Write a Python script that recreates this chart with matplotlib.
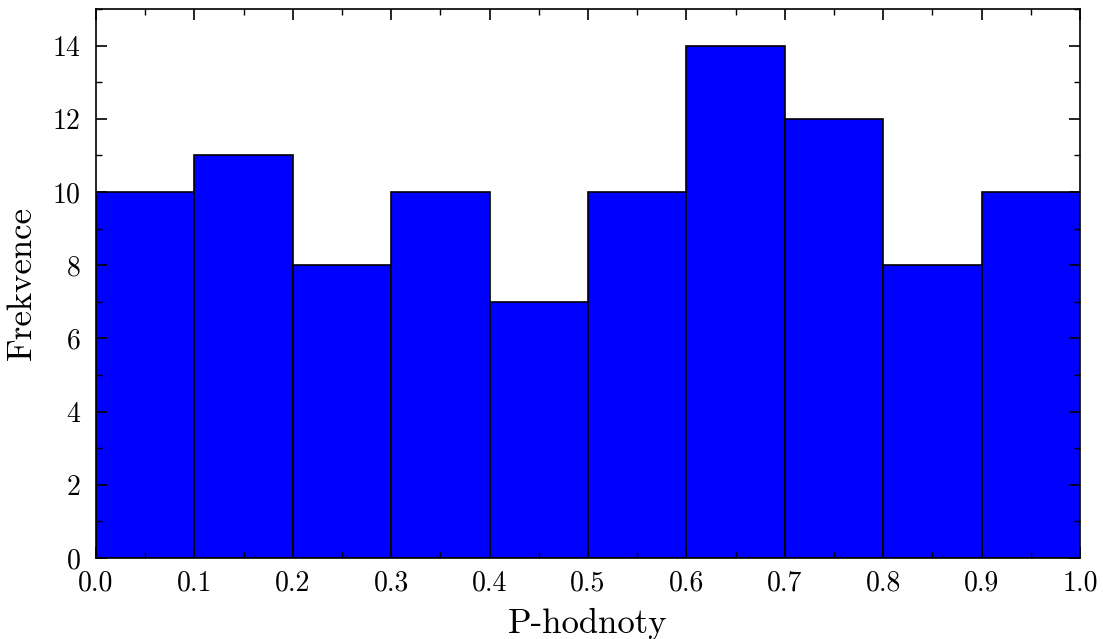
import matplotlib
matplotlib.use("Agg")
import matplotlib.pyplot as plt
import numpy as np
from matplotlib.ticker import MultipleLocator

bin_edges = [0.0, 0.1, 0.2, 0.3, 0.4, 0.5, 0.6, 0.7, 0.8, 0.9, 1.0]
counts = [10, 11, 8, 10, 7, 10, 14, 12, 8, 10]

plt.rcParams['font.family'] = 'serif'
plt.rcParams['font.serif'] = ['cmr10']
plt.rcParams['mathtext.fontset'] = 'cm'
plt.rcParams['axes.formatter.use_mathtext'] = True

fig = plt.figure(figsize=(11.03, 6.39), dpi=100)
ax = fig.add_axes([96/1103, 1-558/639, (1080-96)/1103, (558-9)/639])
ax.hist(bin_edges[:-1], bins=bin_edges, weights=counts, color='#0000ff',
        edgecolor='black', linewidth=1.2)
ax.set_xlim(0, 1)
ax.set_ylim(0, 15)
ax.xaxis.set_major_locator(MultipleLocator(0.1))
ax.xaxis.set_minor_locator(MultipleLocator(0.05))
ax.yaxis.set_major_locator(MultipleLocator(2))
ax.yaxis.set_minor_locator(MultipleLocator(1))
ax.xaxis.set_major_formatter(matplotlib.ticker.FormatStrFormatter('%.1f'))
ax.tick_params(which='both', direction='in', top=True, right=True, labelsize=20)
ax.tick_params(which='major', length=8, width=1.2)
ax.tick_params(which='minor', length=4, width=1.0)
ax.tick_params(axis='x', which='major', pad=9)
ax.tick_params(axis='y', which='major', pad=11)
for s in ax.spines.values():
    s.set_linewidth(1.2)
ax.set_xlabel('P-hodnoty', fontsize=25, labelpad=8)
ax.set_ylabel('Frekvence', fontsize=25, labelpad=10)
fig.savefig('out.png', dpi=100)
